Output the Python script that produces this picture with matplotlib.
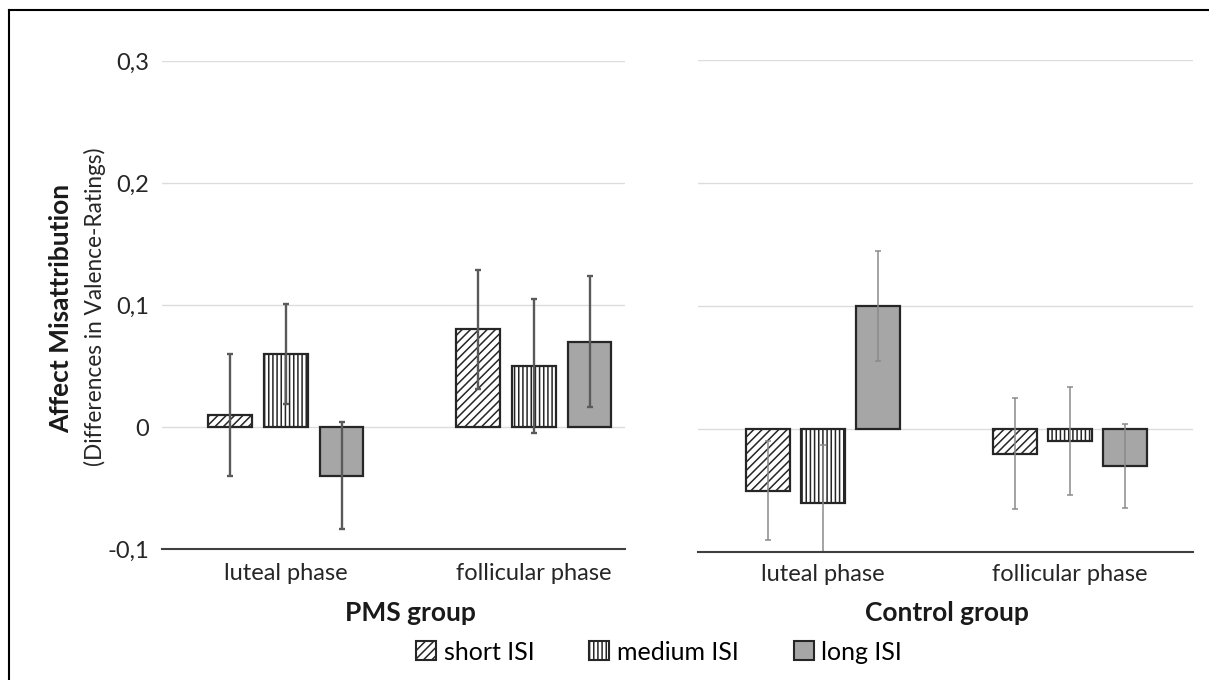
import matplotlib
matplotlib.use("Agg")
import matplotlib.pyplot as plt
import numpy as np
from matplotlib.lines import Line2D
from matplotlib.patches import Patch

plt.rcParams['font.family'] = ['Lato', 'DejaVu Sans']
plt.rcParams['hatch.linewidth'] = 1.1

categories = ["luteal phase", "follicular phase"]
series = ["short ISI", "medium ISI", "long ISI"]
yticks = [-0.1, 0, 0.1, 0.2, 0.3]
ytick_labels = ["-0,1", "0", "0,1", "0,2", "0,3"]

pms_short = [0.01, 0.08]
pms_medium = [0.06, 0.05]
pms_long = [-0.04, 0.07]
pms_short_err = [0.05, 0.049]
pms_medium_err = [0.041, 0.055]
pms_long_err = [0.044, 0.054]

ctrl_short = [-0.05, -0.02]
ctrl_medium = [-0.06, -0.01]
ctrl_long = [0.10, -0.03]
ctrl_short_err = [0.04, 0.045]
ctrl_medium_err = [0.047, 0.044]
ctrl_long_err = [0.045, 0.034]

W, H = 1209, 680
fig = plt.figure(figsize=(W / 100, H / 100), dpi=100)
fig.patch.set_facecolor('white')

styles = [
    dict(facecolor='white', hatch='////', edgecolor='#262626'),
    dict(facecolor='white', hatch='||||', edgecolor='#262626'),
    dict(facecolor='#a6a6a6', hatch=None, edgecolor='#262626'),
]

TICK_FS = 17

def panel(rect, data, errs, xlim, show_y, err_color, err_lw, xpad):
    ax = fig.add_axes(rect)
    x = np.arange(len(categories))
    step = 0.224
    width = 0.177
    for i, (vals, ev) in enumerate(zip(data, errs)):
        pos = x + (i - 1) * step
        ax.bar(pos, vals, width=width, linewidth=1.6, zorder=2, **styles[i])
        ax.errorbar(pos, vals, yerr=ev, fmt='none', ecolor=err_color,
                    elinewidth=err_lw, capsize=2.5, capthick=err_lw, zorder=3)
    ax.set_xlim(*xlim)
    ax.set_ylim(-0.1, 0.3)
    ax.set_yticks(yticks)
    if show_y:
        ax.set_yticklabels(ytick_labels, fontsize=TICK_FS, color='#262626')
    else:
        ax.set_yticklabels([])
    ax.yaxis.grid(True, color='#dcdcdc', linewidth=1)
    ax.set_axisbelow(True)
    for s in ['top', 'right', 'left']:
        ax.spines[s].set_visible(False)
    ax.spines['bottom'].set_color('#404040')
    ax.spines['bottom'].set_linewidth(1.5)
    ax.spines['bottom'].set_zorder(4)
    ax.set_xticks(x)
    ax.set_xticklabels(categories, fontsize=TICK_FS, color='#262626')
    ax.tick_params(axis='both', length=0)
    ax.tick_params(axis='x', pad=xpad)
    ax.tick_params(axis='y', pad=9)
    return ax

ax1 = panel([162 / W, 1 - 549 / H, 463 / W, 488 / H],
            [pms_short, pms_medium, pms_long],
            [pms_short_err, pms_medium_err, pms_long_err],
            (-0.5, 1.367), True, '#5a5a5a', 1.7, 10)
ax2 = panel([698 / W, 1 - 552 / H, 495 / W, 492 / H],
            [ctrl_short, ctrl_medium, ctrl_long],
            [ctrl_short_err, ctrl_medium_err, ctrl_long_err],
            (-0.506, 1.498), False, '#8a8a8a', 1.1, 8.5)

fig.text(410 / W, 1 - 613 / H, "PMS group", fontsize=19, fontweight='bold',
         ha='center', va='center', color='#1a1a1a')
fig.text(947 / W, 1 - 613 / H, "Control group", fontsize=19, fontweight='bold',
         ha='center', va='center', color='#1a1a1a')

fig.text(61 / W, 1 - 308 / H, "Affect Misattribution", rotation=90, fontsize=19,
         fontweight='bold', ha='center', va='center', color='#1a1a1a')
fig.text(95 / W, 1 - 307 / H, "(Differences in Valence-Ratings)", rotation=90,
         fontsize=16.3, ha='center', va='center', color='#262626')

handles = [Patch(linewidth=1.5, label=series[i], **styles[i]) for i in range(3)]
fig.legend(handles=handles, loc='center', bbox_to_anchor=(659 / W, 1 - 652 / H),
           ncol=3, frameon=False, fontsize=18, handlelength=0.8, handleheight=0.8,
           handletextpad=0.3, columnspacing=2.2)

fig.add_artist(Line2D([8.5 / W, 8.5 / W], [0, 1 - 10 / H], transform=fig.transFigure,
                      color='black', linewidth=1.5))
fig.add_artist(Line2D([8.5 / W, 1], [1 - 10 / H, 1 - 10 / H], transform=fig.transFigure,
                      color='black', linewidth=1.5))

fig.savefig("out.png", dpi=100)
